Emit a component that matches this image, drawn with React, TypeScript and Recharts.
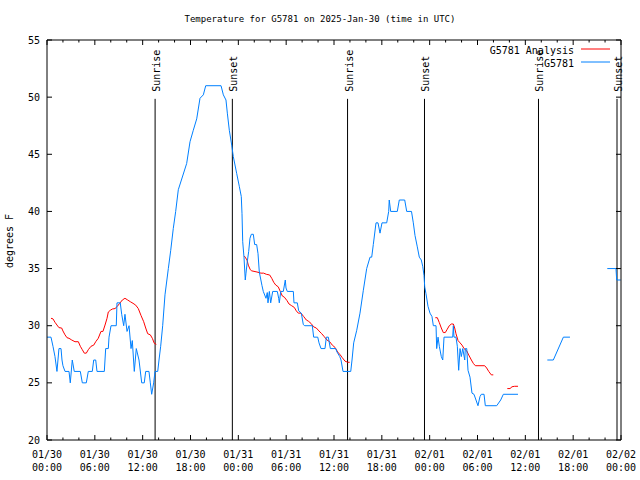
import React from 'react';
import { LineChart, Line, XAxis, YAxis, ReferenceLine } from 'recharts';

// ---- data (hours since 2025-01-30 00:00 UTC, degrees F) ----
const obsDay1: [number, number][] = [
  [0, 29], [0.5, 29], [0.75, 28.2], [1.0, 27.3], [1.25, 26], [1.5, 28], [1.76, 28], [1.88, 27], [2.0, 26.5], [2.26, 26],
  [2.76, 26], [2.92, 25], [3.17, 27], [3.42, 26], [4.18, 26], [4.43, 25], [4.93, 25], [5.18, 26], [5.68, 26], [5.86, 27],
  [6.11, 27], [6.27, 26], [7.19, 26], [7.36, 28], [7.69, 28], [7.78, 29], [8.03, 30], [8.69, 30], [8.78, 32], [9.19, 32],
  [9.37, 31], [9.62, 30], [9.78, 31], [10.04, 29.5], [10.29, 30], [10.54, 28], [10.7, 28.7], [10.95, 26], [11.2, 28], [11.54, 27],
  [11.88, 25], [12.2, 25], [12.38, 26], [12.79, 26], [12.96, 25], [13.13, 24], [13.38, 25], [13.55, 26], [13.89, 26], [14.05, 27],
  [14.26, 28.2], [14.51, 30], [14.8, 32.7], [15.22, 35], [15.52, 36.6], [15.84, 38.5], [16.14, 40], [16.47, 41.9], [17.02, 43.1], [17.52, 44.2],
  [17.94, 46.1], [18.35, 47.1], [18.78, 48.1], [19.19, 49.9], [19.61, 50.2], [19.91, 51], [21.83, 51], [22.12, 50.2], [22.45, 49.75], [22.62, 48.6],
  [22.87, 47.1], [23.17, 45.8], [23.37, 44.8], [23.8, 43.3], [24.12, 42.2],
];
const obsDay2: [number, number][] = [
  [24.37, 41.3], [24.46, 39.8], [24.55, 37.35], [24.71, 36], [24.87, 34], [24.96, 34.6], [25.12, 35.6], [25.3, 36.5], [25.46, 37.65], [25.63, 38],
  [25.88, 38], [26.05, 37.1], [26.3, 37.1], [26.47, 36.3], [26.63, 34.7], [26.97, 33.5], [27.13, 33], [27.47, 32.4], [27.63, 32.9], [27.72, 32],
  [27.89, 33], [28.06, 32], [28.31, 33], [28.89, 33], [29.06, 32.4], [29.14, 32], [29.32, 33], [29.64, 33], [29.89, 34], [29.98, 33.3],
  [30.14, 33], [30.9, 33], [30.98, 32], [31.4, 32], [31.57, 31.3], [31.9, 31.1], [32.15, 30.1], [32.33, 30], [33.28, 30], [33.45, 29],
  [33.96, 29], [34.12, 28.5], [34.37, 28], [34.87, 28], [35.04, 29], [35.29, 29], [35.54, 28], [36.21, 28], [36.38, 27.7], [36.72, 27.3],
  [36.88, 27], [37.13, 26], [38.1, 26], [38.26, 27], [38.47, 28.5], [38.85, 29.6], [39.26, 31.1], [39.68, 33.1], [40.1, 35], [40.52, 36],
  [40.73, 36], [40.93, 37.1], [41.27, 39], [41.52, 39], [41.77, 38.1], [42.02, 39], [42.61, 39], [42.86, 40], [42.93, 41], [43.11, 40],
  [43.94, 40], [44.19, 41], [44.87, 41], [45.12, 40], [45.72, 40], [45.95, 39], [46.16, 37.9], [46.45, 36.9], [46.7, 36], [46.95, 35.75],
  [47.13, 35.2], [47.29, 34.4], [47.38, 33.4], [47.54, 32.8], [47.79, 31.7],
];
const obsDay3: [number, number][] = [
  [48.04, 31.1], [48.29, 30.8], [48.46, 30], [48.8, 30], [48.88, 28], [49.05, 29], [49.21, 28.2], [49.46, 27.3], [49.64, 27], [49.8, 29],
  [50.89, 29], [50.97, 30], [51.05, 29], [51.3, 29], [51.47, 28.2], [51.64, 26.1], [51.81, 28], [51.97, 27.3], [52.15, 28], [52.4, 27],
  [52.47, 28], [52.65, 28], [52.81, 26.1], [53.06, 25.5], [53.31, 24.1], [53.56, 24], [54.06, 23], [54.31, 23.8], [54.48, 24], [54.82, 24],
  [54.98, 23], [56.41, 23], [56.91, 23.5], [57.24, 24], [59.08, 24],
];
const obsLateA: [number, number][] = [[62.76, 27], [63.51, 27], [64.77, 29], [65.6, 29]];
const obsLateB: [number, number][] = [[70.28, 35], [71.37, 35], [71.46, 34], [71.96, 34]];

const anaSeg1: [number, number][] = [
  [0.5, 30.65], [0.75, 30.6], [1.0, 30.3], [1.25, 30.06], [1.5, 29.83], [1.84, 29.8], [2.0, 29.54], [2.26, 29.2], [2.51, 28.95], [2.76, 28.9],
  [3.1, 28.75], [3.51, 28.6], [3.93, 28.6], [4.18, 28.2], [4.43, 27.9], [4.68, 27.6], [4.93, 27.6], [5.18, 27.9], [5.52, 28.2], [5.86, 28.3],
  [6.11, 28.6], [6.43, 28.9], [6.77, 29.5], [7.02, 29.5], [7.28, 30.06], [7.53, 30.65], [7.69, 31.2], [7.94, 31.35], [8.19, 31.46], [8.53, 31.5],
  [8.78, 31.66], [9.12, 31.96], [9.45, 32.25], [9.78, 32.4], [10.12, 32.25], [10.45, 32.1], [10.79, 31.96], [11.13, 31.8], [11.45, 31.5], [11.79, 30.9],
  [12.13, 30.35], [12.38, 29.8], [12.63, 29.3], [12.96, 29.2], [13.21, 28.9], [13.46, 28.46], [13.71, 28.37],
];
const anaSeg2: [number, number][] = [
  [24.75, 36.1], [25.09, 35.75], [25.25, 35.3], [25.5, 34.9], [25.68, 34.8], [26.34, 34.7], [26.84, 34.6], [27.18, 34.6], [27.51, 34.5], [27.93, 34.44],
  [28.19, 34.15], [28.44, 33.8], [28.69, 33.56], [29.01, 33.4], [29.26, 33.0], [29.52, 32.6], [29.77, 32.5], [30.1, 32.2], [30.36, 31.9], [30.69, 31.75],
  [31.02, 31.6], [31.27, 31.3], [31.52, 31.1], [31.86, 31.1], [32.2, 30.8], [32.53, 30.5], [32.78, 30.4], [33.12, 30.2], [33.45, 29.9], [33.78, 29.8],
  [34.12, 29.54], [34.46, 29.3], [34.78, 29.04], [35.12, 28.75], [35.46, 28.6], [35.79, 28.3], [36.13, 28.1], [36.46, 27.7], [36.79, 27.44], [37.04, 27.2],
  [37.38, 26.9], [37.72, 26.8], [37.97, 26.8],
];
const anaSeg3: [number, number][] = [
  [48.71, 30.7], [48.96, 30.7], [49.21, 30.27], [49.46, 29.8], [49.71, 29.4], [49.96, 29.4], [50.21, 29.7], [50.46, 30.0], [50.72, 30.15], [50.97, 30.15],
  [51.14, 29.8], [51.3, 29.3], [51.56, 28.7], [51.81, 28.5], [52.06, 28.3], [52.31, 28.0], [52.65, 27.8], [52.9, 27.44], [53.23, 27.0], [53.48, 26.7],
  [53.73, 26.5], [54.9, 26.5], [55.15, 26.3], [55.41, 26.0], [55.73, 25.7], [55.98, 25.7],
];
const anaSeg4: [number, number][] = [[57.74, 24.5], [58.08, 24.5], [58.33, 24.66], [58.66, 24.7], [59.08, 24.7]];

const sunHours = [13.56, 23.25, 37.7, 47.35, 61.65, 71.5];
const sunLabels = ['Sunrise', 'Sunset', 'Sunrise', 'Sunset', 'Sunrise', 'Sunset'];
const sunLineTop = 49.85;

const xTickHours = [0, 2, 4, 6, 8, 10, 12, 14, 16, 18, 20, 22, 24, 26, 28, 30, 32, 34, 36, 38, 40, 42, 44, 46, 48, 50, 52, 54, 56, 58, 60, 62, 64, 66, 68, 70, 72];
const xMajorHours = [0, 6, 12, 18, 24, 30, 36, 42, 48, 54, 60, 66, 72];
const xTickDates = ['01/30', '01/30', '01/30', '01/30', '01/31', '01/31', '01/31', '01/31', '02/01', '02/01', '02/01', '02/01', '02/02'];
const xTickTimes = ['00:00', '06:00', '12:00', '18:00', '00:00', '06:00', '12:00', '18:00', '00:00', '06:00', '12:00', '18:00', '00:00'];
const yTicks = [20, 25, 30, 35, 40, 45, 50, 55];

const TITLE = 'Temperature for G5781 on 2025-Jan-30 (time in UTC)';
const Y_LABEL = 'degrees F';
const OBS_NAME = 'G5781';
const ANA_NAME = 'G5781 Analysis';
const OBS_COLOR = '#0080ff';
const ANA_COLOR = '#ff0000';
const FONT = '"DejaVu Sans Mono", "Liberation Mono", monospace';
const FS = 10;

type Pt = { h: number; t: number | null };
function buildSeries(segments: [number, number][][]): Pt[] {
  const out: Pt[] = [];
  segments.forEach((seg, i) => {
    if (i > 0) out.push({ h: seg[0][0], t: null });
    seg.forEach(([h, t]) => out.push({ h, t }));
  });
  return out;
}
const obsData = buildSeries([[...obsDay1, ...obsDay2, ...obsDay3], obsLateA, obsLateB]);
const anaData = buildSeries([anaSeg1, anaSeg2, anaSeg3, anaSeg4]);

const BottomTick = (props: any) => {
  const { x, y, payload } = props;
  const i = xMajorHours.indexOf(payload.value);
  const len = i >= 0 ? 5 : 2.5;
  return (
    <g>
      <line x1={x} y1={y} x2={x} y2={y - len} stroke="#000" />
      {i >= 0 && (
        <text x={x} y={y + 18} textAnchor="middle" fontFamily={FONT} fontSize={FS} fill="#000">
          <tspan x={x}>{xTickDates[i]}</tspan>
          <tspan x={x} dy={13}>{xTickTimes[i]}</tspan>
        </text>
      )}
    </g>
  );
};
const TopTick = (props: any) => {
  const { x, y, payload } = props;
  const len = xMajorHours.indexOf(payload.value) >= 0 ? 5 : 2.5;
  return <line x1={x} y1={y} x2={x} y2={y + len} stroke="#000" />;
};
const LeftTick = (props: any) => {
  const { x, y, payload } = props;
  return (
    <g>
      <line x1={x} y1={y} x2={x + 5} y2={y} stroke="#000" />
      <text x={x - 7} y={y + 3.5} textAnchor="end" fontFamily={FONT} fontSize={FS} fill="#000">
        {payload.value}
      </text>
    </g>
  );
};
const RightTick = (props: any) => {
  const { x, y } = props;
  return <line x1={x} y1={y} x2={x - 5} y2={y} stroke="#000" />;
};

const SunLabel = (props: any) => {
  const { viewBox, text } = props;
  if (!viewBox) return null;
  const px = viewBox.x + 5;
  const py = viewBox.y - 7;
  return (
    <text x={px} y={py} transform={`rotate(-90 ${px} ${py})`} textAnchor="start" fontFamily={FONT} fontSize={FS} fill="#000">
      {text}
    </text>
  );
};

export default function App() {
  return (
    <div style={{ position: 'absolute', left: 0, top: 0, width: 640, height: 480, background: '#fff' }}>
      <LineChart width={640} height={480} margin={{ top: 39, right: 18, bottom: 0, left: 0 }}>
        <XAxis
          dataKey="h"
          type="number"
          domain={[0, 72]}
          ticks={xTickHours}
          interval={0}
          height={40}
          tickSize={0}
          tickMargin={0}
          tickLine={false}
          axisLine={{ stroke: '#000' }}
          tick={<BottomTick />}
          allowDataOverflow
        />
        <XAxis
          xAxisId="top"
          orientation="top"
          dataKey="h"
          type="number"
          domain={[0, 72]}
          ticks={xTickHours}
          interval={0}
          height={1}
          tickSize={0}
          tickMargin={0}
          tickLine={false}
          axisLine={{ stroke: '#000' }}
          tick={<TopTick />}
          allowDataOverflow
        />
        <YAxis
          type="number"
          domain={[20, 55]}
          ticks={yTicks}
          interval={0}
          width={47}
          tickSize={0}
          tickMargin={0}
          tickLine={false}
          axisLine={{ stroke: '#000' }}
          tick={<LeftTick />}
          allowDataOverflow
        />
        <YAxis
          yAxisId="right"
          orientation="right"
          type="number"
          domain={[20, 55]}
          ticks={yTicks}
          interval={0}
          width={1}
          tickSize={0}
          tickMargin={0}
          tickLine={false}
          axisLine={{ stroke: '#000' }}
          tick={<RightTick />}
          allowDataOverflow
        />
        {sunHours.map((h, i) => (
          <ReferenceLine
            key={'sun' + i}
            segment={[{ x: h, y: 20 }, { x: h, y: sunLineTop }]}
            stroke="#000"
            strokeWidth={1}
            label={<SunLabel text={sunLabels[i]} />}
          />
        ))}
        <Line
          data={anaData}
          dataKey="t"
          name={ANA_NAME}
          stroke={ANA_COLOR}
          strokeWidth={1}
          dot={false}
          activeDot={false}
          isAnimationActive={false}
          type="linear"
        />
        <Line
          data={obsData}
          dataKey="t"
          name={OBS_NAME}
          stroke={OBS_COLOR}
          strokeWidth={1}
          dot={false}
          activeDot={false}
          isAnimationActive={false}
          type="linear"
        />
        <text x={320} y={22} textAnchor="middle" fontFamily={FONT} fontSize={9} fill="#000">{TITLE}</text>
        <text x={13} y={241} transform="rotate(-90 13 241)" textAnchor="middle" fontFamily={FONT} fontSize={FS} fill="#000">{Y_LABEL}</text>
        <g>
          <text x={574} y={53.5} textAnchor="end" fontFamily={FONT} fontSize={FS} fill="#000">{ANA_NAME}</text>
          <line x1={581} y1={49} x2={610} y2={49} stroke={ANA_COLOR} />
          <text x={574} y={66.5} textAnchor="end" fontFamily={FONT} fontSize={FS} fill="#000">{OBS_NAME}</text>
          <line x1={581} y1={62} x2={610} y2={62} stroke={OBS_COLOR} />
        </g>
      </LineChart>
    </div>
  );
}
